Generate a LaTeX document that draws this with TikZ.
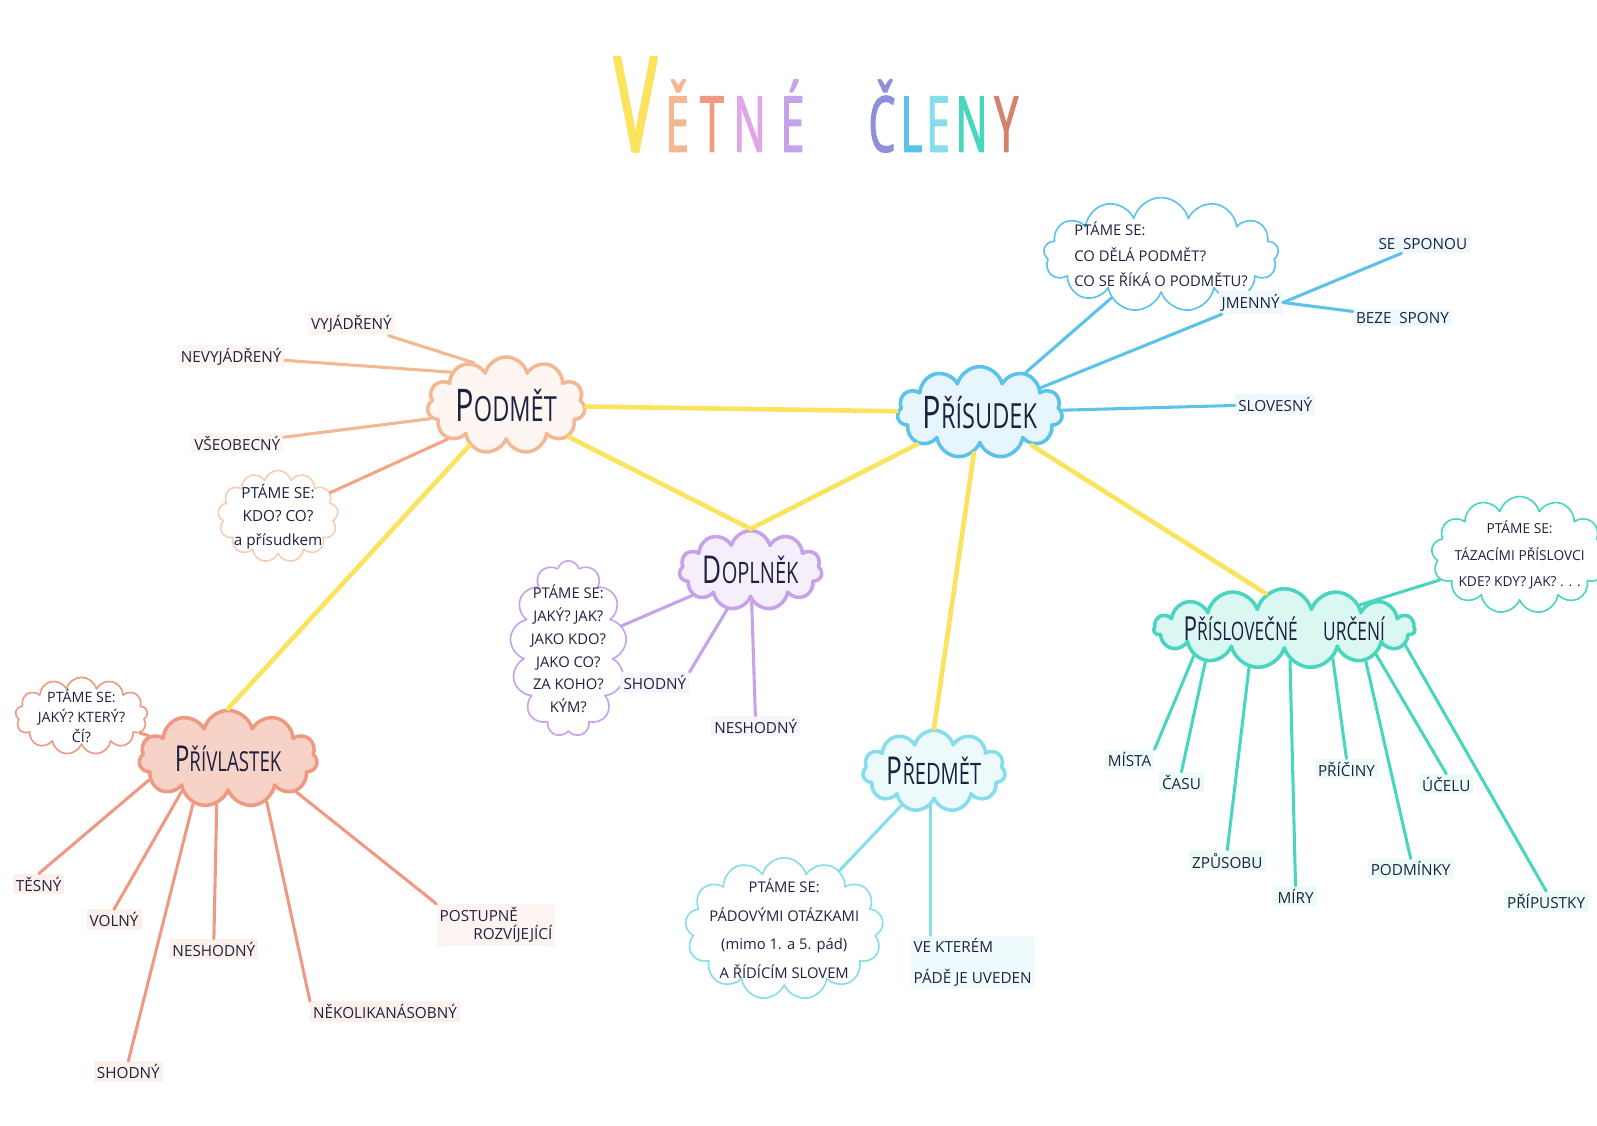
\documentclass[tikz,border=0pt]{standalone}
\usepackage{fontspec}
\setmainfont{Open Sans}
\newfontfamily\bigfont{Open Sans}[FakeStretch=0.68]
\newfontfamily\titlefont{Open Sans}[FakeStretch=0.55, FakeBold=1.5]
\usetikzlibrary{shapes.symbols}
\definecolor{ink}{HTML}{1E2240}
\definecolor{cYel}{HTML}{FBE35E}
\definecolor{cPeach}{HTML}{F3B892}
\definecolor{cSalmon}{HTML}{EE9A82}
\definecolor{cLav}{HTML}{C6A2EA}
\definecolor{cBlue}{HTML}{5CC2EA}
\definecolor{cCyan}{HTML}{86DDEC}
\definecolor{cTeal}{HTML}{48D6BE}
\definecolor{cViol}{HTML}{8F8FDD}
\definecolor{cBrown}{HTML}{D4826C}
\definecolor{cPink}{HTML}{E2A5EA}
\newcommand\firstletter[1]{\scalebox{1.3}{#1}}
\begin{document}
\begin{tikzpicture}[x=1pt, y=-1pt, line join=round, line cap=round,
  every node/.style={text=ink},
  main/.style={cloud, cloud puffs=11, aspect=1.9, cloud ignores aspect, line width=3.5pt, inner sep=0pt,
    font=\bigfont\fontsize{34}{34}\selectfont},
  ask/.style={cloud, cloud puffs=13, cloud ignores aspect, line width=1.6pt, inner sep=-6pt, align=center, fill=white},
  lbl/.style={inner sep=3pt, font=\fontsize{15}{18}\selectfont},
  link/.style={draw=cYel, line width=4.5pt},
  twig/.style={line width=3pt},
  letter/.style={anchor=base, inner sep=0pt, font=\titlefont\fontsize{76}{76}\selectfont}]
\useasboundingbox (0,0) rectangle (1568,1105);
\fill[white] (0,0) rectangle (1568,1105);

\node[letter, text=cYel, font=\titlefont\fontsize{130}{130}\selectfont] (tV) at (624,149) {V};
\foreach \ch/\cx/\cc [count=\i] in {Ě/665/cPeach, T/699/cSalmon, N/736/cPink, É/778/cLav,
    Č/866/cViol, L/895/cBlue, E/921/cCyan, N/954/cTeal, Y/988/cBrown}
  \node[letter, text=\cc] (t\i) at (\cx,149) {\ch};

\node[main, draw=cPeach, fill=cPeach!12, minimum width=155, minimum height=95] (podmet) at (497,398) {\firstletter{P}ODMĚT};
\node[main, draw=cBlue, fill=cBlue!15, minimum width=158, minimum height=90] (prisudek) at (962,405) {\firstletter{P}ŘÍSUDEK};
\node[main, draw=cLav, fill=cLav!18, minimum width=140, minimum height=78, font=\bigfont\fontsize{29}{29}\selectfont] (doplnek) at (737,560) {\firstletter{D}OPLNĚK};
\node[main, draw=cSalmon, fill=cSalmon!45, minimum width=175, minimum height=95, font=\bigfont\fontsize{27}{27}\selectfont] (privlastek) at (224,745) {\firstletter{P}ŘÍVLASTEK};
\node[main, draw=cCyan, fill=cCyan!15, minimum width=140, minimum height=80, font=\bigfont\fontsize{29}{29}\selectfont] (predmet) at (917,757) {\firstletter{P}ŘEDMĚT};
\node[main, draw=cTeal, fill=cTeal!20, minimum width=248, minimum height=78, inner sep=-7pt, cloud puffs=15, font=\bigfont\fontsize{25}{25}\selectfont] (prislov) at (1261,617) {\firstletter{P}ŘÍSLOVEČNÉ\quad URČENÍ};

\node[ask, draw=cPeach!70, font=\fontsize{15}{23}\selectfont, minimum width=118, minimum height=88] (qpod) at (273,507) {PTÁME SE:\\KDO? CO?\\a přísudkem};
\node[ask, draw=cBlue, font=\fontsize{14.5}{25}\selectfont, minimum width=220, minimum height=100, align=left] (qpris) at (1140,250) {PTÁME SE:\\CO DĚLÁ PODMĚT?\\CO SE ŘÍKÁ O PODMĚTU?};
\node[ask, draw=cLav, font=\fontsize{14.5}{22.5}\selectfont, minimum width=108, minimum height=158] (qdopl) at (558,637) {PTÁME SE:\\JAKÝ? JAK?\\JAKO KDO?\\JAKO CO?\\ZA KOHO?\\KÝM?};
\node[ask, draw=cSalmon, font=\fontsize{14}{20}\selectfont, minimum width=130, minimum height=76] (qpriv) at (80,703) {PTÁME SE:\\JAKÝ? KTERÝ?\\ČÍ?};
\node[ask, draw=cCyan, inner sep=-10pt, font=\fontsize{14.5}{28}\selectfont, minimum width=175, minimum height=128] (qpred) at (770,912) {PTÁME SE:\\PÁDOVÝMI OTÁZKAMI\\(mimo 1. a 5. pád)\\A ŘÍDÍCÍM SLOVEM};
\node[ask, draw=cTeal, font=\fontsize{13.5}{26}\selectfont, minimum width=165, minimum height=115] (qprisl) at (1492,545) {PTÁME SE:\\TÁZACÍMI PŘÍSLOVCI\\KDE? KDY? JAK? . . .};

\node[lbl, fill=cPeach!12] (vyjadreny) at (345,318) {VYJÁDŘENÝ};
\node[lbl, fill=cPeach!12] (nevyjadreny) at (227,350) {NEVYJÁDŘENÝ};
\node[lbl, fill=cPeach!12] (vseobecny) at (233,435) {VŠEOBECNÝ};

\node[lbl, fill=cBlue!10] (jmenny) at (1228,297) {JMENNÝ};
\node[lbl, fill=cBlue!10] (sesponou) at (1397,240) {SE\enspace SPONOU};
\node[lbl, fill=cBlue!10] (bezespony) at (1377,312) {BEZE\enspace SPONY};
\node[lbl, fill=cBlue!10] (slovesny) at (1252,397) {SLOVESNÝ};

\node[lbl, fill=cLav!12] (shodnyD) at (643,670) {SHODNÝ};
\node[lbl, fill=cLav!12] (neshodnyD) at (742,713) {NESHODNÝ};

\node[lbl, fill=cSalmon!15] (tesny) at (38,868) {TĚSNÝ};
\node[lbl, fill=cSalmon!15] (volny) at (112,903) {VOLNÝ};
\node[lbl, fill=cSalmon!15] (neshodnyP) at (210,932) {NESHODNÝ};
\node[lbl, fill=cSalmon!15] (shodnyP) at (126,1052) {SHODNÝ};
\node[lbl, fill=cSalmon!15] (nekolik) at (378,993) {NĚKOLIKANÁSOBNÝ};
\node[lbl, fill=cSalmon!12, align=left] (postupne) at (487,908) {POSTUPNĚ\\\hspace*{2.2em}ROZVÍJEJÍCÍ};

\node[lbl, fill=cCyan!12, align=left, font=\fontsize{15}{30}\selectfont] (vekterem) at (955,945) {VE KTERÉM\\ PÁDĚ JE UVEDEN};

\node[lbl, fill=cTeal!10] (mista) at (1109,746) {MÍSTA};
\node[lbl, fill=cTeal!10] (casu) at (1160,768) {ČASU};
\node[lbl, fill=cTeal!10] (zpusobu) at (1205,845) {ZPŮSOBU};
\node[lbl, fill=cTeal!10] (miry) at (1272,880) {MÍRY};
\node[lbl, fill=cTeal!10] (priciny) at (1322,755) {PŘÍČINY};
\node[lbl, fill=cTeal!10] (ucelu) at (1420,770) {ÚČELU};
\node[lbl, fill=cTeal!10] (podminky) at (1385,853) {PODMÍNKY};
\node[lbl, fill=cTeal!10] (pripustky) at (1518,885) {PŘÍPUSTKY};

\draw[link] (podmet) -- (prisudek);
\draw[link] (podmet) -- (doplnek.north) -- (prisudek);
\draw[link] (podmet) -- (privlastek.north);
\draw[link] (prisudek) -- (predmet.north);
\draw[link] (prisudek) -- (prislov.118);

\draw[twig, cPeach] (vyjadreny) -- (podmet.127);
\draw[twig, cPeach] (nevyjadreny) -- (podmet.149);
\draw[twig, cPeach] (vseobecny) -- (podmet.190);
\draw[twig, cPeach!90!red] (qpod) -- (podmet.210);

\draw[twig, cBlue] (prisudek) -- (qpris);
\draw[twig, cBlue] (prisudek) -- (jmenny);
\draw[twig, cBlue] (jmenny.east) -- (sesponou);
\draw[twig, cBlue] (jmenny.east) -- (bezespony);
\draw[twig, cBlue] (prisudek) -- (slovesny);

\draw[twig, cLav] (qdopl) -- (doplnek);
\draw[twig, cLav] (doplnek) -- (shodnyD.north east);
\draw[twig, cLav] (doplnek) -- (neshodnyD);

\draw[twig, cSalmon] (qpriv) -- (privlastek);
\draw[twig, cSalmon] (tesny.north) -- (privlastek.195);
\draw[twig, cSalmon] (volny.north) -- (privlastek.215);
\draw[twig, cSalmon] (shodnyP.north) -- (privlastek.232);
\draw[twig, cSalmon] (neshodnyP.north) -- (privlastek.256);
\draw[twig, cSalmon] (nekolik.north west) -- (privlastek.312);
\draw[twig, cSalmon] (postupne.north west) -- (privlastek.334);

\draw[twig, cCyan] (qpred) -- (predmet);
\draw[twig, cCyan] (predmet.265) -- (predmet.265 |- vekterem.north);

\draw[twig, cTeal] (qprisl) -- (prislov);
\draw[twig, cTeal] (mista.north east) -- (prislov.197);
\draw[twig, cTeal] (casu.north) -- (prislov.203);
\draw[twig, cTeal] (zpusobu.north) -- (prislov.228);
\draw[twig, cTeal] (miry.north) -- (prislov.280);
\draw[twig, cTeal] (priciny.north) -- (prislov.328);
\draw[twig, cTeal] (podminky.north) -- (prislov.338);
\draw[twig, cTeal] (ucelu.north) -- (prislov.344);
\draw[twig, cTeal] (pripustky.north) -- (prislov.352);
\end{tikzpicture}
\end{document}
